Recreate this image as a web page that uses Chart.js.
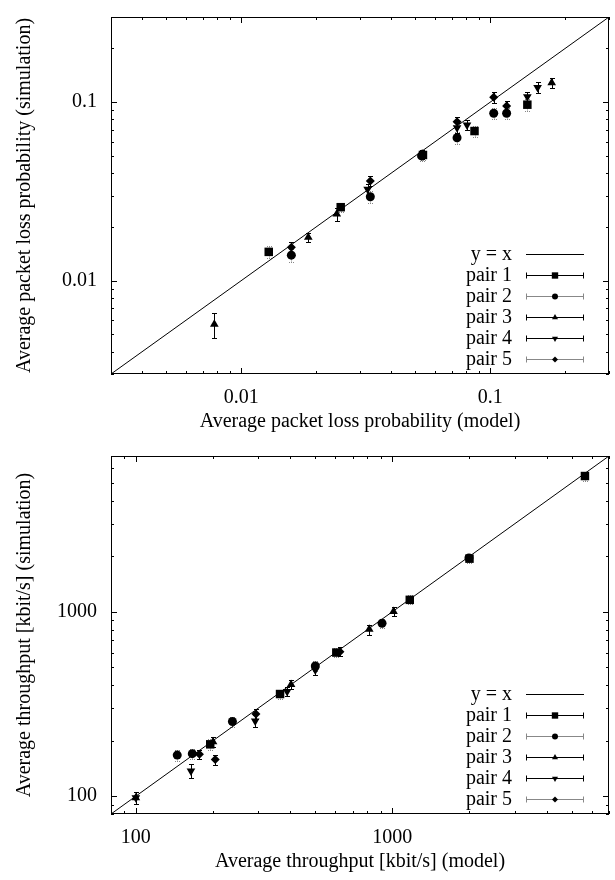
<!DOCTYPE html>
<html>
<head>
<meta charset="utf-8">
<script src="https://cdn.jsdelivr.net/npm/chart.js@4.4.1/dist/chart.umd.min.js"></script>
<style>
  html, body { margin: 0; padding: 0; background: #fff; }
  .panel { position: absolute; left: 0; width: 615px; height: 440px; }
</style>
</head>
<body>
<div class="panel" style="top:0"><canvas id="lossChart" width="615" height="440"></canvas></div>
<div class="panel" style="top:440px"><canvas id="rateChart" width="615" height="440"></canvas></div>
<script>
// --- data ---
const pairLabels = ['pair 1', 'pair 2', 'pair 3', 'pair 4', 'pair 5'];

// top panel: packet loss probability (model vs simulation)
const lossRange = [0.003, 0.3];
const lossTicks = [0.01, 0.1];
const lossPair1Model = [0.0129, 0.0251, 0.0537, 0.0865, 0.141];
const lossPair1Sim   = [0.0145, 0.0258, 0.0506, 0.0689, 0.0968];
const lossPair1Err   = [0.0011, 0.0015, 0.0030, 0.0050, 0.0070];
const lossPair2Model = [0.0159, 0.0330, 0.0530, 0.0736, 0.1033, 0.1164];
const lossPair2Sim   = [0.0139, 0.0295, 0.0500, 0.0632, 0.0867, 0.0867];
const lossPair2Err   = [0.0011, 0.0022, 0.0030, 0.0050, 0.0060, 0.0060];
const lossPair3Model = [0.0078, 0.0186, 0.0242, 0.0533, 0.1766];
const lossPair3Sim   = [0.0057, 0.0175, 0.0236, 0.0512, 0.1286];
const lossPair3Err   = [0.0009, 0.0011, 0.0020, 0.0030, 0.0080];
const lossPair4Model = [0.0322, 0.0736, 0.0807, 0.141, 0.155];
const lossPair4Sim   = [0.0325, 0.0720, 0.0745, 0.1073, 0.121];
const lossPair4Err   = [0.0025, 0.0045, 0.0045, 0.0070, 0.0080];
const lossPair5Model = [0.0159, 0.0330, 0.0736, 0.1033, 0.1164];
const lossPair5Sim   = [0.0154, 0.0362, 0.0778, 0.1064, 0.0951];
const lossPair5Err   = [0.0011, 0.0025, 0.0050, 0.0070, 0.0060];

// bottom panel: throughput in kbit/s (model vs simulation)
const rateRange = [80, 7000];
const rateTicks = [100, 1000];
const ratePair1Model = [195, 365, 605, 1170, 2000, 5640];
const ratePair1Sim   = [191, 358, 601, 1161, 1942, 5450];
const ratePair1Err   = [12, 20, 35, 65, 110, 300];
const ratePair2Model = [145, 166, 238, 501, 912, 1990];
const ratePair2Sim   = [167, 170, 254, 508, 867, 1960];
const ratePair2Err   = [11, 10, 16, 30, 50, 110];
const ratePair3Model = [100, 200, 403, 813, 1011];
const ratePair3Sim   = [98, 197, 403, 803, 1005];
const ratePair3Err   = [7, 12, 22, 50, 55];
const ratePair4Model = [100, 164, 292, 389, 501];
const ratePair4Sim   = [98, 137, 256, 370, 483];
const ratePair4Err   = [7, 12, 18, 22, 28];
const ratePair5Model = [177, 204, 294, 625];
const ratePair5Sim   = [169, 158, 279, 608];
const ratePair5Err   = [10, 10, 17, 35];

// --- look of the marks ---
const FONT = { family: '"Liberation Serif", "Times New Roman", serif', size: 20 };
const pairLooks = [
  { pointStyle: 'rect',     rotation: 0,   radius: 6,   bar: '#888', dash: [1, 1], key: '#000' },
  { pointStyle: 'circle',   rotation: 0,   radius: 4.5, bar: '#888', dash: [1, 1], key: '#888' },
  { pointStyle: 'triangle', rotation: 0,   radius: 5,   bar: '#000', dash: [],     key: '#000' },
  { pointStyle: 'triangle', rotation: 180, radius: 5,   bar: '#000', dash: [],     key: '#000' },
  { pointStyle: 'rectRot',  rotation: 0,   radius: 4.5, bar: '#000', dash: [],     key: '#888' }
];

function zipPoints(xs, ys) {
  return xs.map((v, i) => ({ x: v, y: ys[i] }));
}

function buildDatasets(range, models, sims, errs) {
  const sets = [{
    label: 'y = x',
    data: [{ x: range[0], y: range[0] }, { x: range[1], y: range[1] }],
    showLine: true,
    borderColor: '#000',
    borderWidth: 1,
    pointRadius: 0,
    keyColor: '#000'
  }];
  models.forEach((m, i) => {
    const look = pairLooks[i];
    sets.push({
      label: pairLabels[i],
      data: zipPoints(m, sims[i]),
      errors: errs[i],
      showLine: false,
      pointStyle: look.pointStyle,
      rotation: look.rotation,
      pointRadius: look.radius,
      backgroundColor: '#000',
      borderColor: '#000',
      borderWidth: 0,
      barColor: look.bar,
      barDash: look.dash,
      keyColor: look.key
    });
  });
  return sets;
}

// vertical error bars, drawn underneath the markers
const errorBars = {
  id: 'errorBars',
  beforeDatasetsDraw(chart) {
    const { ctx, scales: { x, y } } = chart;
    chart.data.datasets.forEach(ds => {
      if (!ds.errors) return;
      ctx.save();
      ctx.strokeStyle = ds.barColor;
      ctx.lineWidth = 1;
      ctx.setLineDash(ds.barDash);
      ds.data.forEach((p, i) => {
        const px = Math.round(x.getPixelForValue(p.x)) + 0.5;
        const top = Math.round(y.getPixelForValue(p.y + ds.errors[i])) + 0.5;
        const bot = Math.round(y.getPixelForValue(p.y - ds.errors[i])) + 0.5;
        ctx.beginPath();
        ctx.moveTo(px, top); ctx.lineTo(px, bot);
        ctx.moveTo(px - 2.5, top); ctx.lineTo(px + 2.5, top);
        ctx.moveTo(px - 2.5, bot); ctx.lineTo(px + 2.5, bot);
        ctx.stroke();
      });
      ctx.restore();
    });
  }
};

// frame with inward log ticks on all four sides
function logTickValues(scale) {
  const out = [];
  const lo = Math.floor(Math.log10(scale.min));
  const hi = Math.ceil(Math.log10(scale.max));
  for (let e = lo; e <= hi; e++) {
    for (let k = 1; k <= 9; k++) {
      const v = k * Math.pow(10, e);
      if (v >= scale.min * 0.999 && v <= scale.max * 1.001) out.push({ v, major: k === 1 });
    }
  }
  return out;
}

const frameTicks = {
  id: 'frameTicks',
  afterDraw(chart) {
    const { ctx, chartArea: a, scales: { x, y } } = chart;
    ctx.save();
    ctx.strokeStyle = '#000';
    ctx.lineWidth = 1;
    ctx.beginPath();
    logTickValues(x).forEach(t => {
      const px = Math.round(x.getPixelForValue(t.v)) + 0.5;
      const len = t.major ? 6 : 3;
      ctx.moveTo(px, a.bottom); ctx.lineTo(px, a.bottom - len);
      ctx.moveTo(px, a.top); ctx.lineTo(px, a.top + len);
    });
    logTickValues(y).forEach(t => {
      const py = Math.round(y.getPixelForValue(t.v)) + 0.5;
      const len = t.major ? 6 : 3;
      ctx.moveTo(a.left, py); ctx.lineTo(a.left + len, py);
      ctx.moveTo(a.right, py); ctx.lineTo(a.right - len, py);
    });
    ctx.stroke();
    ctx.strokeRect(Math.round(a.left) + 0.5, Math.round(a.top) + 0.5,
                   Math.round(a.right - a.left) - 1, Math.round(a.bottom - a.top) - 1);
    ctx.restore();
  }
};

// key in the lower right corner of the plot
const insideKey = {
  id: 'insideKey',
  afterDraw(chart) {
    const { ctx, chartArea: a } = chart;
    ctx.save();
    ctx.font = FONT.size + 'px ' + FONT.family;
    ctx.textAlign = 'right';
    ctx.textBaseline = 'middle';
    chart.data.datasets.forEach((ds, i) => {
      const yy = Math.round(a.bottom - 120 + 21 * i) + 0.5;
      const x0 = a.right - 83, x1 = a.right - 25, xm = (x0 + x1) / 2;
      ctx.fillStyle = '#000';
      ctx.fillText(ds.label, a.right - 97, yy);
      ctx.strokeStyle = ds.keyColor;
      ctx.lineWidth = 1;
      ctx.beginPath();
      ctx.moveTo(x0, yy); ctx.lineTo(x1, yy);
      if (ds.errors) {
        ctx.moveTo(x0 + 0.5, yy - 3); ctx.lineTo(x0 + 0.5, yy + 3);
        ctx.moveTo(x1 - 0.5, yy - 3); ctx.lineTo(x1 - 0.5, yy + 3);
      }
      ctx.stroke();
      if (ds.errors) {
        ctx.fillStyle = '#000';
        ctx.strokeStyle = '#000';
        Chart.helpers.drawPoint(ctx, {
          pointStyle: ds.pointStyle, rotation: ds.rotation,
          radius: ds.pointRadius - 1.5, borderWidth: 0
        }, xm, yy);
      }
    });
    ctx.restore();
  }
};

function logAxis(range, ticks, title, horizontal) {
  return {
    type: 'logarithmic',
    min: range[0],
    max: range[1],
    afterBuildTicks: s => { s.ticks = ticks.map(v => ({ value: v })); },
    ticks: {
      callback: v => String(v),
      font: FONT, color: '#000',
      padding: horizontal ? 12 : 14,
      autoSkip: false, maxRotation: 0
    },
    grid: { display: false, drawTicks: false },
    border: { display: false },
    title: {
      display: true, text: title, font: FONT, color: '#000',
      padding: horizontal ? { top: 0, bottom: 6 } : { top: 13, bottom: 0 }
    },
    afterFit: s => {
      // fixed box sizes; the tick labels never sit at the plot edge
      if (horizontal) { s.height = 66; s.paddingLeft = 0; s.paddingRight = 0; }
      else { s.width = 111; s.paddingTop = 0; s.paddingBottom = 0; }
    }
  };
}

function makeChart(id, range, ticks, datasets, xTitle, yTitle, topPad) {
  return new Chart(document.getElementById(id), {
    type: 'scatter',
    data: { datasets },
    options: {
      responsive: false,
      animation: false,
      layout: { padding: { top: topPad, right: 3, left: 0, bottom: 0 } },
      plugins: { legend: { display: false }, tooltip: { enabled: false } },
      scales: {
        x: logAxis(range, ticks, xTitle, true),
        y: logAxis(range, ticks, yTitle, false)
      }
    },
    plugins: [errorBars, frameTicks, insideKey]
  });
}

makeChart('lossChart', lossRange, lossTicks,
  buildDatasets(lossRange,
    [lossPair1Model, lossPair2Model, lossPair3Model, lossPair4Model, lossPair5Model],
    [lossPair1Sim, lossPair2Sim, lossPair3Sim, lossPair4Sim, lossPair5Sim],
    [lossPair1Err, lossPair2Err, lossPair3Err, lossPair4Err, lossPair5Err]),
  'Average packet loss probability (model)',
  'Average packet loss probability (simulation)', 17);

makeChart('rateChart', rateRange, rateTicks,
  buildDatasets(rateRange,
    [ratePair1Model, ratePair2Model, ratePair3Model, ratePair4Model, ratePair5Model],
    [ratePair1Sim, ratePair2Sim, ratePair3Sim, ratePair4Sim, ratePair5Sim],
    [ratePair1Err, ratePair2Err, ratePair3Err, ratePair4Err, ratePair5Err]),
  'Average throughput [kbit/s] (model)',
  'Average throughput [kbit/s] (simulation)', 16);
</script>
</body>
</html>
